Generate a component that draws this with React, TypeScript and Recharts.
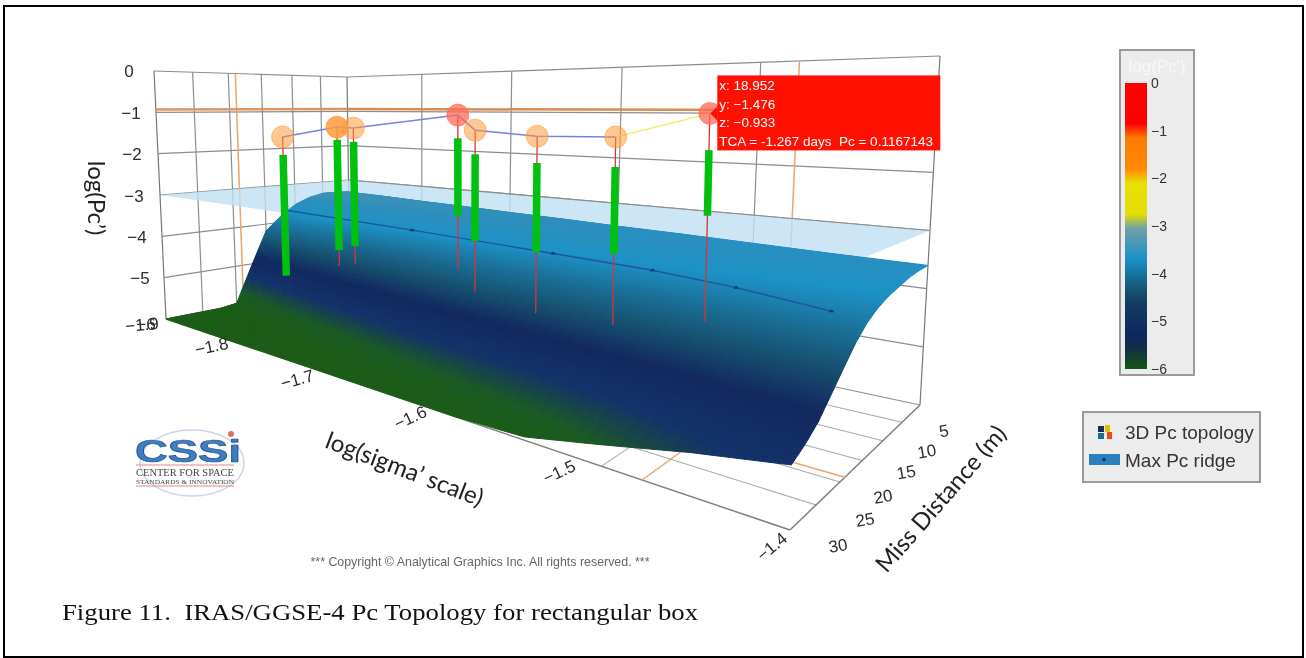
import React from "react";
import { ScatterChart, Scatter, XAxis, YAxis, ComposedChart, Bar } from "recharts";

const W = 1306;
const H = 658;

// axis ticks
const sigmaTicks = [-1.9, -1.8, -1.7, -1.6, -1.5, -1.4];
const missTicks = [30, 25, 20, 15, 10, 5, 0];
const zTicks = [0, -1, -2, -3, -4, -5, -6];

// surface, log(Pc'), one row per miss distance
const gridSigma = [-1.9, -1.85, -1.8, -1.75, -1.7, -1.65, -1.6, -1.55, -1.5, -1.45, -1.4];
const gridMiss = [0, 2.5, 5, 7.5, 10, 12.5, 15, 17.5, 20, 22.5, 25, 27.5, 30];
const surfaceZ = [
  [-3.35, -3.37, -3.4, -3.42, -3.45, -3.47, -3.5, -3.52, -3.55, -3.58, -3.6],
  [-3.32, -3.35, -3.38, -3.4, -3.43, -3.46, -3.49, -3.52, -3.55, -3.58, -3.61],
  [-3.32, -3.35, -3.38, -3.41, -3.44, -3.47, -3.5, -3.54, -3.57, -3.6, -3.64],
  [-3.4, -3.42, -3.45, -3.47, -3.5, -3.53, -3.55, -3.58, -3.62, -3.66, -3.7],
  [-3.56, -3.56, -3.57, -3.58, -3.6, -3.62, -3.64, -3.67, -3.7, -3.73, -3.76],
  [-3.83, -3.8, -3.78, -3.76, -3.76, -3.77, -3.78, -3.79, -3.81, -3.83, -3.85],
  [-4.18, -4.12, -4.07, -4.03, -4.0, -3.98, -3.97, -3.97, -3.97, -3.97, -3.98],
  [-5.05, -4.75, -4.55, -4.42, -4.34, -4.28, -4.24, -4.22, -4.2, -4.19, -4.18],
  [-5.95, -5.6, -5.25, -5.0, -4.8, -4.68, -4.6, -4.53, -4.48, -4.44, -4.43],
  [-6, -6, -5.9, -5.6, -5.35, -5.15, -5.02, -4.92, -4.82, -4.74, -4.68],
  [-6, -6, -6, -6, -5.85, -5.65, -5.48, -5.33, -5.18, -5.02, -4.92],
  [-6, -6, -6, -6, -6, -5.98, -5.85, -5.7, -5.48, -5.25, -5.08],
  [-6, -6, -6, -6, -6, -6, -6, -5.95, -5.69, -5.42, -5.2],
];

// max Pc ridge
const ridgeSigma = [-1.9, -1.739, -1.604, -1.53, -1.475, -1.42];
const ridgeMiss = [11.3, 12, 12.5, 12.5, 13, 14];
const ridgeZ = [-3.7, -3.72, -3.76, -3.8, -3.86, -3.95];

// conjunction events
const eventSigma = [-1.84, -1.775, -1.757, -1.655, -1.64, -1.59, -1.534, -1.476];
const eventMiss = 18.952;
const eventZ = [-1.6, -1.32, -1.33, -1.01, -1.3, -1.38, -1.35, -0.933];
const greenTop = [-2.04, -1.61, -1.64, -1.47, -1.77, -1.87, -1.86, -1.51];
const greenBottom = [-5.0, -4.13, -3.98, -3.02, -3.47, -3.51, -3.34, -2.54];
const stemBottom = [-5.0, -4.49, -4.38, -4.05, -4.46, -4.63, -4.55, -4.2];
const tooltipLines = ["x: 18.952", "y: \u22121.476", "z: \u22120.933", "TCA = -1.267 days  Pc = 0.1167143"];

const colorbarTicks = [0, -1, -2, -3, -4, -5, -6];

// projection of the box, screen corners of floor and top
const A = [166, 319], B = [790, 530], C = [920, 405], D = [350, 283];
const A2 = [154, 71], B2 = [800, 42], C2 = [940, 56], D2 = [347, 77];
const warp = (t: number, a: number) => (a * t) / (1 + (a - 1) * t);
const mix = (p: number[], q: number[], t: number) => [p[0] + (q[0] - p[0]) * t, p[1] + (q[1] - p[1]) * t];

function project(s: number, m: number, z: number) {
  const U = warp((s + 1.9) / 0.5, 0.577);
  const V = warp((30 - m) / 30, 1.25);
  const bot = mix(mix(A, B, U), mix(D, C, U), V);
  const top = mix(mix(A2, B2, U), mix(D2, C2, U), V);
  const p = mix(top, bot, -z / 6);
  return { x: p[0], y: p[1] };
}

const surfaceStops: [number, string][] = [
  [-6, "#1b5c17"],
  [-5.72, "#1a5a24"],
  [-5.32, "#13326a"],
  [-4.85, "#12285f"],
  [-4.45, "#165070"],
  [-4.08, "#1a7098"],
  [-3.75, "#1c92c6"],
  [-3.45, "#2f8fbd"],
  [-3, "#6a9ab0"],
];

function zColor(z: number) {
  const st = surfaceStops;
  if (z <= st[0][0]) return st[0][1];
  for (let i = 1; i < st.length; i++) {
    if (z <= st[i][0]) {
      const t = (z - st[i - 1][0]) / (st[i][0] - st[i - 1][0]);
      const c = [1, 3, 5].map((k) => {
        const a = parseInt(st[i - 1][1].slice(k, k + 2), 16);
        const b = parseInt(st[i][1].slice(k, k + 2), 16);
        return Math.round(a + (b - a) * t);
      });
      return `rgb(${c[0]},${c[1]},${c[2]})`;
    }
  }
  return st[st.length - 1][1];
}

const NoPoint = () => <g />;

// a grid cell, shaded in small pieces so the colour runs smoothly
const SUB_S = 5;
const SUB_M = 12;
function CellShape(props: any) {
  const { cx, cy, payload } = props;
  const { s0, s1, m0, m1, z00, z01, z10, z11 } = payload;
  const polys = [];
  const at = (i: number, j: number) => {
    const a = i / SUB_S, b = j / SUB_M;
    const z = (z00 * (1 - a) + z01 * a) * (1 - b) + (z10 * (1 - a) + z11 * a) * b;
    const p = project(s0 + (s1 - s0) * a, m0 + (m1 - m0) * b, z);
    return { px: cx + p.x - payload.x, py: cy + p.y - payload.y, z };
  };
  for (let j = 0; j < SUB_M; j++) {
    for (let i = 0; i < SUB_S; i++) {
      const c = [at(i, j), at(i + 1, j), at(i + 1, j + 1), at(i, j + 1)];
      const col = zColor((c[0].z + c[1].z + c[2].z + c[3].z) / 4);
      polys.push(
        <polygon
          key={`${i}-${j}`}
          points={c.map((q) => `${q.px},${q.py}`).join(" ")}
          fill={col}
          stroke={col}
          strokeWidth={1}
        />
      );
    }
  }
  return <g>{polys}</g>;
}

const surfaceCells: any[] = [];
gridMiss.slice(0, -1).forEach((m0, j) => {
  gridSigma.slice(0, -1).forEach((s0, i) => {
    const o = project(s0, m0, surfaceZ[j][i]);
    surfaceCells.push({
      ...o,
      s0,
      s1: gridSigma[i + 1],
      m0,
      m1: gridMiss[j + 1],
      z00: surfaceZ[j][i],
      z01: surfaceZ[j][i + 1],
      z10: surfaceZ[j + 1][i],
      z11: surfaceZ[j + 1][i + 1],
    });
  });
});

function PlaneShape(props: any) {
  const { cx, cy, payload } = props;
  const pts = payload.corners.map((p: any) => `${cx + p.x - payload.x},${cy + p.y - payload.y}`).join(" ");
  return <polygon points={pts} fill="#bfe0f2" fillOpacity={0.8} />;
}

function TextMark(props: any) {
  const { cx, cy, payload } = props;
  const x = cx + (payload.dx || 0);
  const y = cy + (payload.dy || 0);
  return (
    <text
      x={x}
      y={y}
      textAnchor="middle"
      dominantBaseline="central"
      fontFamily="'Liberation Sans', Arial, sans-serif"
      fontSize={17}
      fill="#2c2c2c"
      transform={payload.rot ? `rotate(${payload.rot} ${x} ${y})` : undefined}
    >
      {payload.text}
    </text>
  );
}

function Marker(props: any) {
  const { cx, cy, payload } = props;
  return (
    <circle
      cx={cx}
      cy={cy}
      r={11}
      fill={payload.fill}
      fillOpacity={payload.op}
      stroke={payload.fill}
      strokeOpacity={0.6}
      strokeWidth={1}
    />
  );
}

function RidgeDot(props: any) {
  const { cx, cy } = props;
  return <path d={`M${cx - 3} ${cy + 1}L${cx} ${cy - 2}L${cx + 3} ${cy + 1}Z`} fill="#123a66" />;
}

function TooltipBox(props: any) {
  const { cx, cy } = props;
  const left = cx + 7.5;
  const top = cy - 38;
  return (
    <g>
      <path d={`M${left} ${cy - 7}L${left - 7} ${cy}L${left} ${cy + 7}Z`} fill="#ff1000" />
      <rect x={left} y={top} width={223} height={75} fill="#ff1000" />
      {tooltipLines.map((t, i) => (
        <text
          key={t}
          x={left + 2}
          y={top + 15 + i * 18.4}
          fontFamily="'Liberation Sans', Arial, sans-serif"
          fontSize={13.5}
          fill="#fff"
          style={{ whiteSpace: "pre" }}
        >
          {t}
        </text>
      ))}
    </g>
  );
}

function seg(key: string, a: any, b: any, stroke: string, width = 1) {
  return (
    <Scatter
      key={key}
      data={[a, b]}
      line={{ stroke, strokeWidth: width }}
      shape={NoPoint}
      isAnimationActive={false}
    />
  );
}

const sMin = sigmaTicks[0], sMax = sigmaTicks[sigmaTicks.length - 1];
const GRID = "#8d8d8d";

// z plane at -3
const plane = [project(sMin, 30, -3), project(sMin, 0, -3), project(sMax, 0, -3), project(sMax, 30, -3)];

// tick label nudges
const sigmaLabelNudge = [[-24, 6], [-33, 1], [-42, 2], [-45, 1], [-42, 6], [-18, 17]];
const sigmaLabelTilt = [-5, -12, -15, -25, -25, -40];
const missLabelNudge: Record<number, number[]> = {
  30: [48, 16], 25: [49, 15], 20: [43, 15], 15: [44, 12], 10: [44, 11], 5: [42, 9],
};
const zLabelNudge = [-25, -25, -26, -26, -25, -24];

const sigmaLabels = sigmaTicks.map((s, i) => {
  const p = project(s, 30, -6);
  return { ...p, text: `\u2212${Math.abs(s).toFixed(1)}`, dx: sigmaLabelNudge[i][0], dy: sigmaLabelNudge[i][1], rot: sigmaLabelTilt[i] };
});
const missLabels = missTicks.filter((m) => m > 0).map((m) => {
  const p = project(sMax, m, -6);
  return { ...p, text: String(m), dx: missLabelNudge[m][0], dy: missLabelNudge[m][1], rot: -10 };
});
const zLabels = zTicks.slice(0, -1).map((z, i) => {
  const p = project(sMin, 30, z);
  return { ...p, text: z === 0 ? "0" : `\u2212${-z}`, dx: zLabelNudge[i], dy: z === 0 ? 0 : 1 };
});
const cornerLabel = [{ ...project(sMin, 30, -6), text: "\u22126", dx: -20, dy: 5 }];

const events = eventSigma.map((s, i) => ({
  ...project(s, eventMiss, eventZ[i]),
  fill: eventZ[i] > -1.1 ? "#ff6a55" : "#ff9a3a",
  op: i === 1 ? 0.85 : eventZ[i] > -1.1 ? 0.75 : 0.55,
}));
const ridge = ridgeSigma.map((s, i) => project(s, ridgeMiss[i], ridgeZ[i]));
const sHi = eventSigma[eventSigma.length - 1];
const zHi = eventZ[eventZ.length - 1];

const CHART_MARGIN = { top: 0, right: 0, bottom: 0, left: 0 };

function Box3D() {
  return (
    <ScatterChart width={W} height={H} margin={CHART_MARGIN} style={{ position: "absolute", left: 0, top: 0 }}>
      <XAxis dataKey="x" type="number" domain={[0, W]} hide allowDataOverflow />
      <YAxis dataKey="y" type="number" domain={[0, H]} reversed hide allowDataOverflow />

      {/* walls */}
      {missTicks.map((m) => seg(`lw${m}`, project(sMin, m, 0), project(sMin, m, -6), m === 0 || m === 30 ? "#777" : GRID, 1.2))}
      {sigmaTicks.slice(1).map((s) => seg(`rw${s}`, project(s, 0, 0), project(s, 0, -6), s === sMax ? "#777" : GRID, 1.2))}
      {zTicks.map((z) => seg(`lh${z}`, project(sMin, 30, z), project(sMin, 0, z), GRID, 1.2))}
      {zTicks.map((z) => seg(`rh${z}`, project(sMin, 0, z), project(sMax, 0, z), GRID, 1.2))}

      {/* floor */}
      {missTicks.slice(1, -1).map((m) => seg(`fm${m}`, project(sMin, m, -6), project(sMax, m, -6), "#a8a8a8", 1.1))}
      {sigmaTicks.slice(1, -1).map((s) => seg(`fs${s}`, project(s, 30, -6), project(s, 0, -6), "#b5b5b5", 1.1))}
      {seg("edge1", project(sMin, 30, -6), project(sMax, 30, -6), "#808080", 1.5)}
      {seg("edge2", project(sMax, 30, -6), project(sMax, 0, -6), "#808080", 1.5)}
      {seg("edge3", project(sMin, 30, -6), project(sMin, 0, -6), "#808080", 1.2)}

      {/* highlighted event, drop lines to the walls and floor */}
      {seg("o1", project(sMin, eventMiss, 0), project(sMin, eventMiss, -6), "#eda36b", 1.5)}
      {seg("o2", project(sHi, 0, 0), project(sHi, 0, -6), "#eda36b", 1.5)}
      {seg("o3", project(sHi, 30, -6), project(sHi, 0, -6), "#eda36b", 1.5)}
      {seg("o4", project(sMin, eventMiss, -6), project(sMax, eventMiss, -6), "#eda36b", 1.5)}
      {seg("o5", project(sMin, 30, zHi), project(sMin, 0, zHi), "#dd9660", 2.5)}
      {seg("o6", project(sMin, 0, zHi), project(sMax, 0, zHi), "#d98a50", 2.5)}

      <Scatter data={[{ ...plane[0], corners: plane }]} shape={PlaneShape} isAnimationActive={false} />
      {/* lines behind the plane read through it */}
      {zTicks.filter((z) => z === -3).map((z) => seg(`rh2${z}`, project(sMin, 0, z), project(sMax, 0, z), GRID, 1.2))}

      <Scatter data={surfaceCells} shape={CellShape} isAnimationActive={false} />

      {/* ridge */}
      <Scatter data={ridge} line={{ stroke: "#1d56a0", strokeWidth: 1.4 }} shape={NoPoint} isAnimationActive={false} />
      <Scatter data={ridge.slice(1)} shape={RidgeDot} isAnimationActive={false} />

      {/* uncertainty stems */}
      {eventSigma.map((s, i) =>
        seg(`red${i}`, project(s, eventMiss, eventZ[i]), project(s, eventMiss, stemBottom[i]), "#d8333a", 1.3)
      )}
      {eventSigma.map((s, i) =>
        seg(`gr${i}`, project(s, eventMiss, greenTop[i]), project(s, eventMiss, greenBottom[i]), "#00c010", 7.5)
      )}

      {/* connectors */}
      <Scatter data={events.slice(0, -1)} line={{ stroke: "#7480e6", strokeWidth: 1.5 }} shape={NoPoint} isAnimationActive={false} />
      {seg("yellow", events[6], events[7], "#f3ee70", 1.6)}
      <Scatter data={events} shape={Marker} isAnimationActive={false} />
      <Scatter data={events.slice(-1)} shape={TooltipBox} isAnimationActive={false} />

      {/* tick labels */}
      <Scatter data={[...sigmaLabels, ...missLabels, ...zLabels, ...cornerLabel]} shape={TextMark} isAnimationActive={false} />
    </ScatterChart>
  );
}

const colorbarData = [{ name: "log(Pc')", range: [-6, 0] }];
const colorbarStops: [number, string][] = [
  [0, "#ff0000"], [-0.85, "#ff0000"], [-1.15, "#ff7a00"], [-1.8, "#ff8a00"], [-2.1, "#e8e000"],
  [-2.75, "#e2e000"], [-3.05, "#70a0a8"], [-3.7, "#1a90c8"], [-4.2, "#175f80"], [-4.6, "#123e60"],
  [-5.3, "#0f2660"], [-5.6, "#12323f"], [-6, "#165418"],
];

function Colorbar() {
  return (
    <div style={{ position: "absolute", left: 1119, top: 49, width: 72, height: 323, background: "#ececec", border: "2px solid #9a9a9a" }}>
      <div style={{ position: "absolute", left: 0, width: 72, top: 6, textAlign: "center", color: "#f8f8f8", font: "17px 'Liberation Sans', Arial, sans-serif" }}>
        log(Pc')
      </div>
      <ComposedChart
        width={72}
        height={338}
        data={colorbarData}
        margin={{ top: 32, right: 0, bottom: 20, left: 4 }}
        barCategoryGap={0}
        style={{ position: "absolute", left: 0, top: 0 }}
      >
        <defs>
          <linearGradient id="cbar" x1="0" y1="0" x2="0" y2="1">
            {colorbarStops.map(([z, c]) => (
              <stop key={z} offset={`${(-z / 6) * 100}%`} stopColor={c} />
            ))}
          </linearGradient>
        </defs>
        <XAxis dataKey="name" hide />
        <YAxis
          orientation="right"
          domain={[-6, 0]}
          ticks={colorbarTicks}
          width={46}
          axisLine={false}
          tickLine={false}
          interval={0}
          tick={{ fontSize: 14, fill: "#333", fontFamily: "'Liberation Sans', Arial, sans-serif", textAnchor: "start", dx: -4 }}
          tickFormatter={(v: number) => (v === 0 ? "0" : `\u2212${-v}`)}
        />
        <Bar dataKey="range" fill="url(#cbar)" isAnimationActive={false} />
      </ComposedChart>
    </div>
  );
}

function LegendBox() {
  const font = "19px 'Liberation Sans', Arial, sans-serif";
  return (
    <div style={{ position: "absolute", left: 1082, top: 411, width: 175, height: 68, background: "#ececec", border: "2px solid #9a9a9a", color: "#333" }}>
      <svg width={40} height={68} style={{ position: "absolute", left: 0, top: 0 }}>
        <rect x={14} y={13} width={6} height={6} fill="#12305f" />
        <rect x={14} y={20} width={6} height={6} fill="#176f98" />
        <rect x={21} y={12} width={5} height={7} fill="#e2c000" />
        <rect x={23} y={19} width={5} height={7} fill="#f04a10" />
        <rect x={5} y={41} width={31} height={11} fill="#2a7fc0" />
        <circle cx={20} cy={46.5} r={1.8} fill="#123a66" />
      </svg>
      <div style={{ position: "absolute", left: 41, top: 9, font, whiteSpace: "nowrap" }}>3D Pc topology</div>
      <div style={{ position: "absolute", left: 41, top: 37, font, whiteSpace: "nowrap" }}>Max Pc ridge</div>
    </div>
  );
}

function Overlay() {
  const title = "Lato, 'Open Sans', sans-serif";
  return (
    <svg width={W} height={H} style={{ position: "absolute", left: 0, top: 0, pointerEvents: "none" }}>
      <text x={97} y={198} textAnchor="middle" dominantBaseline="central" fontFamily={title} fontSize={24} fill="#222" transform="rotate(90 97 198)">
        log(Pc’)
      </text>
      <text x={405} y={468} textAnchor="middle" dominantBaseline="central" fontFamily={title} fontSize={24} fill="#222" transform="rotate(21 405 468)">
        log(sigma’ scale)
      </text>
      <text x={940} y={498} textAnchor="middle" dominantBaseline="central" fontFamily={title} fontSize={24} fill="#222" transform="rotate(-49 940 498)">
        Miss Distance (m)
      </text>
      <text x={480} y={562} textAnchor="middle" dominantBaseline="central" fontFamily="'Liberation Sans', Arial, sans-serif" fontSize={12.4} fill="#666">
        *** Copyright © Analytical Graphics Inc. All rights reserved. ***
      </text>

      {/* CSSI logo */}
      <ellipse cx={192} cy={463} rx={52} ry={33} fill="none" stroke="#ccd6e4" strokeWidth={1.5} />
      <text x={188} y={462} textAnchor="middle" fontFamily="'Liberation Sans', Arial, sans-serif" fontSize={32} fontWeight={700} fill="#3f7cc0" stroke="#1e4f90" strokeWidth={0.7} textLength={106} lengthAdjust="spacingAndGlyphs">
        CSSi
      </text>
      <circle cx={231} cy={434} r={3} fill="#e0705a" />
      <line x1={136} y1={465} x2={234} y2={465} stroke="#d88" strokeWidth={1.2} />
      <text x={185} y={476} textAnchor="middle" fontFamily="'Liberation Serif', serif" fontSize={10} fill="#444" textLength={98} lengthAdjust="spacingAndGlyphs">
        CENTER FOR SPACE
      </text>
      <text x={185} y={484} textAnchor="middle" fontFamily="'Liberation Serif', serif" fontSize={7} fill="#444" textLength={98} lengthAdjust="spacingAndGlyphs">
        STANDARDS &amp; INNOVATION
      </text>
      <line x1={136} y1={486} x2={234} y2={486} stroke="#d88" strokeWidth={1} />
    </svg>
  );
}

export default function App() {
  return (
    <div style={{ position: "absolute", left: 0, top: 0, width: W, height: H, background: "#fff", overflow: "hidden", filter: "blur(0.45px)" }}>
      <div style={{ position: "absolute", left: 3, top: 5, width: 1297, height: 649, border: "2px solid #000" }} />
      <Box3D />
      <Overlay />
      <Colorbar />
      <LegendBox />
      <div style={{ position: "absolute", left: 62, top: 599, font: "24px 'Liberation Serif', 'Times New Roman', serif", color: "#111", whiteSpace: "pre", transform: "scaleX(1.114)", transformOrigin: "left top" }}>
        Figure 11.  IRAS/GGSE-4 Pc Topology for rectangular box
      </div>
    </div>
  );
}
